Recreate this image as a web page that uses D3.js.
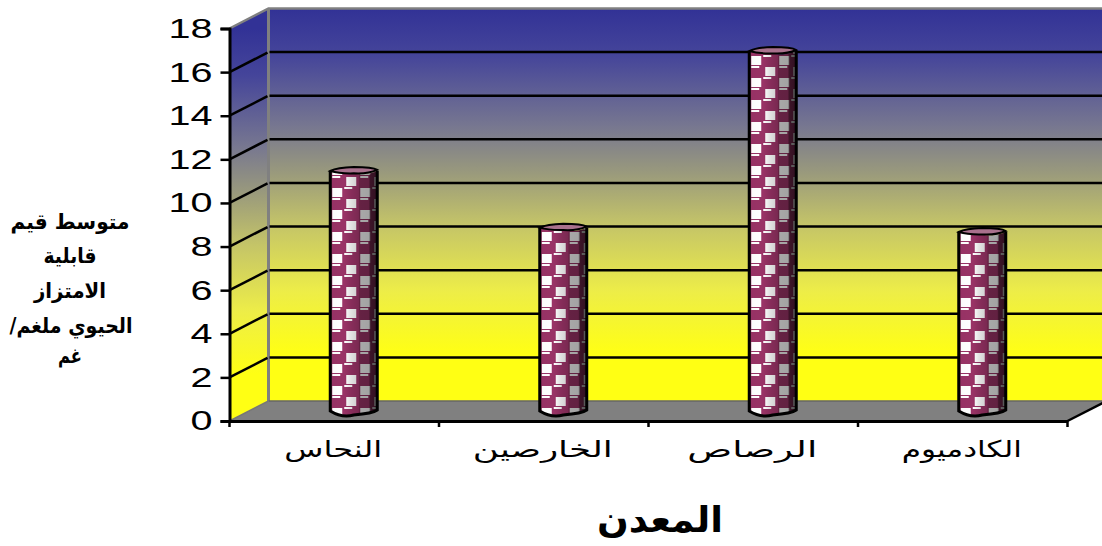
<!DOCTYPE html>
<html><head><meta charset="utf-8">
<style>html,body{margin:0;padding:0;background:#fff;overflow:hidden}svg{display:block}</style>
<script src="https://cdn.jsdelivr.net/npm/d3@7"></script></head><body>
<script>
const categories=["النحاس","الخارصين","الرصاص","الكادميوم"];
const values=[11.1,8.5,16.6,8.3];
const yTicks=[0,2,4,6,8,10,12,14,16,18];
const yTitleLines=["متوسط قيم","قابلية","الامتزاز","الحيوي ملغم/","غم"];
const xTitle="المعدن";

const W=1102,H=546,dx=39,dy=-20;
const catWidths=[98,140,130,120], titleWidths=[119,53,72,123,24], titleBase=[229,263,298,333,363];
const svg=d3.select("body").append("svg").attr("width",W).attr("height",H);
const x=d3.scaleBand().domain(categories).range([229.5,1067.5]);
const y=d3.scaleLinear().domain([0,18]).range([421,28.5]);
const defs=svg.append("defs");
const stops=[[0,"#323296"],[.12,"#45459a"],[.3,"#777790"],[.42,"#9a9a7c"],[.55,"#c4c468"],[.72,"#eded48"],[.88,"#ffff14"],[1,"#ffff14"]];
const wg=defs.append("linearGradient").attr("id","wall").attr("gradientUnits","userSpaceOnUse")
  .attr("x1",0).attr("x2",0).attr("y1",y(18)+dy).attr("y2",y(0)+dy);
stops.forEach(([o,c])=>wg.append("stop").attr("offset",o).attr("stop-color",c));
const sg=defs.append("linearGradient").attr("id","side").attr("gradientUnits","userSpaceOnUse")
  .attr("x1",0).attr("x2",0).attr("y1",y(18)).attr("y2",y(0));
stops.forEach(([o,c])=>sg.append("stop").attr("offset",o).attr("stop-color",c));
// checker texture, anchored to each cylinder's own base
const pat=defs.append("pattern").attr("id","chk").attr("patternUnits","userSpaceOnUse")
  .attr("width",28).attr("height",22).attr("x",2).attr("y",18);
pat.append("rect").attr("width",28).attr("height",22).attr("fill","#993366");
[[0,1,10,9,"#fff"],[14,12,10,9,"#fff"],[12,0,8,2,"#fff"],[0,11,8,2,"#fff"]]
  .forEach(([a,b,c,d,f])=>pat.append("rect").attr("x",a).attr("y",b).attr("width",c).attr("height",d).attr("fill",f));
const cg=defs.append("linearGradient").attr("id","shade");
[[0,.02],[.3,0],[.42,.1],[.6,.2],[.62,.34],[.82,.36],[.85,.6],[1,.68]]
  .forEach(([o,a])=>cg.append("stop").attr("offset",o).attr("stop-color","#000").attr("stop-opacity",a));

const px=x(categories[0]),pr=x.range()[1],y0=y(0),yt=y(18);
const line=d3.line();
svg.append("path").attr("d",line([[px,y0],[px,yt],[px+dx,yt+dy],[px+dx,y0+dy]])+"Z").attr("fill","url(#side)");
svg.append("rect").attr("x",px+dx).attr("y",yt+dy).attr("width",W-px-dx).attr("height",y0-yt).attr("fill","url(#wall)");
svg.append("path").attr("d",line([[px,y0],[px+dx,y0+dy],[pr+dx,y0+dy],[pr,y0]])+"Z").attr("fill","#808080");
svg.append("path").attr("d",line([[px,yt],[px+dx,yt+dy],[W,yt+dy]])).attr("fill","none").attr("stroke","#808080").attr("stroke-width",2.5);
svg.append("path").attr("d",line([[px+dx,yt+dy],[px+dx,y0+dy]])).attr("fill","none").attr("stroke","#808080").attr("stroke-width",3);
svg.append("path").attr("d",line([[px+dx,y0+dy],[W,y0+dy]])).attr("fill","none").attr("stroke","#666").attr("stroke-width",1.5);
yTicks.slice(1,-1).forEach(t=>{
  svg.append("path").attr("d",line([[px,y(t)],[px+dx-1,y(t)+dy+.5]])).attr("fill","none").attr("stroke","#000").attr("stroke-width",2.5);
  svg.append("path").attr("d",line([[px+dx+1,y(t)+dy],[W,y(t)+dy]])).attr("fill","none").attr("stroke","#000").attr("stroke-width",2.5);
});
svg.append("path").attr("d",line([[px,y0],[px+dx,y0+dy]])).attr("fill","none").attr("stroke","#777").attr("stroke-width",1.5);
svg.append("path").attr("d",line([[pr,y0],[pr+dx,y0+dy]])).attr("fill","none").attr("stroke","#000").attr("stroke-width",2.5);
const ya=svg.append("g").attr("transform",`translate(${px},0)`).call(d3.axisLeft(y).tickValues(yTicks).tickSize(9).tickPadding(8).tickFormat(d3.format("d")));
ya.selectAll("path").attr("stroke-width",3).attr("stroke","#000");
ya.selectAll("line").attr("stroke-width",2.5);
ya.selectAll("text").attr("font-family","Liberation Sans").attr("font-size",28).attr("fill","#000").attr("textLength",d=>d>=10?44:22).attr("lengthAdjust","spacingAndGlyphs");
const xa=svg.append("g").attr("transform",`translate(0,${y0})`).call(d3.axisBottom(x).tickSize(0).tickPadding(20));
xa.selectAll("path").attr("stroke-width",3).attr("stroke","#000");
xa.selectAll("text").attr("font-family","DejaVu Sans").attr("font-size",23).attr("fill","#000")
  .attr("textLength",(d,i)=>catWidths[i]).attr("lengthAdjust","spacingAndGlyphs").attr("dx",-1);
svg.append("g").selectAll("line").data([...categories.map(c=>x(c)),pr]).join("line")
  .attr("x1",d=>d).attr("x2",d=>d).attr("y1",y0).attr("y2",y0+6).attr("stroke","#000").attr("stroke-width",2.5);
const bw=47,ry=4;
const g=svg.append("g").selectAll("g").data(categories.map((c,i)=>({c,v:values[i]}))).join("g");
g.each(function(d){
  const bx=x(d.c)+x.bandwidth()/2+dx/2-bw/2,by=y(0)+dy/2;
  const l=0,r=bw,bot=0,top=y(d.v)+dy/2+2-by;
  const s=d3.select(this).attr("transform",`translate(${bx},${by})`);
  const outline=`M${l},${top}L${l},${bot}Q${l+bw*.25},${bot+2*ry*.9} ${l+bw/2},${bot+ry}Q${r-bw*.1},${bot+ry*.6} ${r},${bot-1}L${r},${top}`;
  const body=outline+`Q${r-bw*.2},${top+ry*1.2} ${l+bw/2},${top+ry*.7}Q${l+bw*.2},${top+ry*.7} ${l},${top}Z`;
  s.append("path").attr("d",body).attr("fill","url(#chk)");
  s.append("path").attr("d",body).attr("fill","url(#shade)");
  const topE=`M${l},${top}Q${l+bw*.15},${top-ry*.9} ${l+bw/2},${top-ry}Q${r-bw*.1},${top-ry} ${r},${top-1}Q${r-bw*.2},${top+ry*.8} ${l+bw/2},${top+ry*.6}Q${l+bw*.2},${top+ry*.7} ${l},${top}Z`;
  s.append("path").attr("d",topE).attr("fill","#a9718d").attr("stroke","#000").attr("stroke-width",2);
  s.append("path").attr("d",outline).attr("fill","none").attr("stroke","#000").attr("stroke-width",3);
});
svg.append("g").selectAll("text").data(yTitleLines).join("text")
  .attr("x",(d,i)=>70+(i==3?1:0)).attr("y",(d,i)=>titleBase[i]).attr("text-anchor","middle").attr("direction","rtl")
  .attr("font-family","DejaVu Sans").attr("font-weight","bold").attr("font-size",21)
  .attr("textLength",(d,i)=>titleWidths[i]).attr("lengthAdjust","spacingAndGlyphs").text(d=>d);
svg.append("text").attr("x",660).attr("y",532).attr("text-anchor","middle").attr("font-family","DejaVu Sans").attr("font-weight","bold").attr("font-size",36)
  .attr("textLength",126).attr("lengthAdjust","spacingAndGlyphs").text(xTitle);
</script></body></html>
